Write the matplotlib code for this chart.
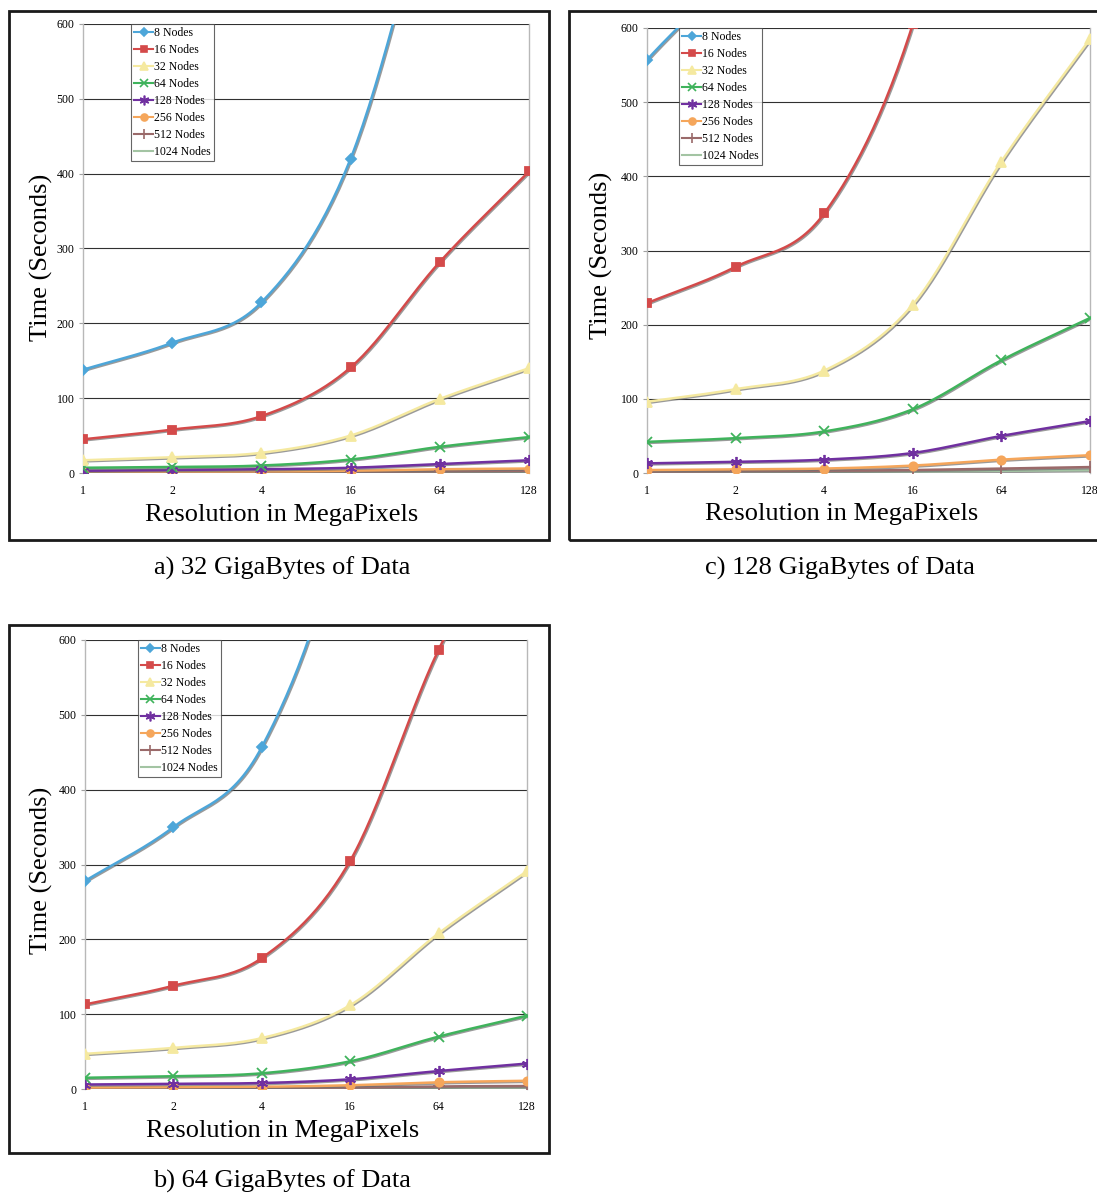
import numpy as np
import matplotlib
matplotlib.use("Agg")
import matplotlib.pyplot as plt
import matplotlib.patheffects as pe
from matplotlib.patches import Rectangle

plt.rcParams['font.family'] = ['Liberation Serif', 'DejaVu Serif']

resolutions = ['1', '2', '4', '16', '64', '128']
series_names = ['8 Nodes', '16 Nodes', '32 Nodes', '64 Nodes',
                '128 Nodes', '256 Nodes', '512 Nodes', '1024 Nodes']

# a) 32 GB
time_32gb = [
    [138, 174, 228, 420, 830, 1250],
    [45, 58, 76, 141, 282, 403],
    [17, 21, 27, 50, 99, 140],
    [7, 8, 10, 18, 35, 48],
    [3, 4, 5, 7, 12, 17],
    [1, 2, 2, 3, 5, 6],
    [0.5, 1, 1, 1.5, 2.5, 3],
    [0.3, 0.5, 0.5, 0.8, 1.2, 1.5],
]
# b) 64 GB
time_64gb = [
    [278, 350, 457, 800, 1500, 2200],
    [113, 138, 175, 305, 587, 800],
    [47, 55, 68, 112, 208, 291],
    [15, 17, 21, 37, 70, 98],
    [6, 7, 8, 13, 24, 34],
    [2, 2.5, 3, 5, 9, 11],
    [1, 1, 1.5, 2, 3.5, 4],
    [0.5, 0.5, 0.8, 1, 1.5, 2],
]
# c) 128 GB
time_128gb = [
    [557, 690, 900, 1700, 3000, 4500],
    [229, 278, 350, 605, 1100, 1600],
    [96, 113, 138, 227, 420, 585],
    [42, 47, 56, 86, 152, 209],
    [13, 15, 18, 27, 50, 70],
    [4, 5, 6, 10, 18, 24],
    [2, 2.5, 3, 4, 6, 8],
    [1, 1, 1.5, 2, 3, 4],
]

colors = ['#4da6d9', '#d44a4a', '#f5e9a0', '#3fb35c',
          '#7030a0', '#f5a65b', '#9a6a6a', '#a3c4a3']
markers = ['D', 's', '^', 'x', (6, 2, 0), 'o', '+', None]
msizes = [5, 6, 7, 7, 8, 6, 8, 0]


def smooth(xs, ys, n=30):
    # Catmull-Rom spline, like the spreadsheet "smoothed line" option
    p = np.column_stack([xs, ys]).astype(float)
    p = np.vstack([2 * p[0] - p[1], p, 2 * p[-1] - p[-2]])
    out = []
    t = np.linspace(0, 1, n)[:, None]
    for i in range(1, len(p) - 2):
        p0, p1, p2, p3 = p[i - 1], p[i], p[i + 1], p[i + 2]
        seg = 0.5 * ((2 * p1) + (-p0 + p2) * t
                     + (2 * p0 - 5 * p1 + 4 * p2 - p3) * t ** 2
                     + (-p0 + 3 * p1 - 3 * p2 + p3) * t ** 3)
        out.append(seg if i == 1 else seg[1:])
    seg = np.vstack(out)
    return seg[:, 0], seg[:, 1]


def panel(fig, rect, data, legend_anchor, xlab_pos, ylab_pos):
    ax = fig.add_axes(rect)
    x = np.arange(len(resolutions))
    shadow = [pe.SimpleLineShadow(offset=(0.8, -0.8), shadow_color='#707070', alpha=0.7),
              pe.Normal()]
    handles = []
    for k in range(len(series_names) - 1, -1, -1):
        sx, sy = smooth(x, data[k])
        ax.plot(sx, sy, color=colors[k], lw=1.8, path_effects=shadow, zorder=3 + (8 - k) * 0.01)
        if markers[k] is not None:
            ax.plot(x, data[k], ls='none', marker=markers[k], ms=msizes[k],
                    color=colors[k], mec=colors[k], mew=1.3, zorder=4)
    for k in range(len(series_names)):
        h, = ax.plot([], [], color=colors[k], lw=1.5, marker=markers[k],
                     ms=msizes[k] - 1, mew=1.2, label=series_names[k])
        handles.append(h)
    ax.set_xlim(0, 5)
    ax.set_ylim(0, 600)
    ax.set_xticks(x)
    ax.set_xticklabels(resolutions)
    ax.set_yticks(range(0, 601, 100))
    ax.tick_params(axis='x', length=0, labelsize=8.5, pad=9)
    ax.tick_params(axis='y', length=3, color='#a0a0a0', labelsize=8.5, pad=3)
    for y in range(0, 601, 100):
        ax.axhline(y, color='#303030', lw=0.8, zorder=1)
    for s in ['top', 'bottom']:
        ax.spines[s].set_visible(False)
    for s in ['left', 'right']:
        ax.spines[s].set_color('#b8b8b8')
        ax.spines[s].set_linewidth(1.0)
    ax.set_xlabel('Resolution in MegaPixels', fontsize=19)
    ax.set_ylabel('Time (Seconds)', fontsize=19)
    ax.xaxis.set_label_coords(*xlab_pos)
    ax.yaxis.set_label_coords(*ylab_pos)
    leg = ax.legend(handles=handles, loc='upper left', bbox_to_anchor=legend_anchor,
                    fontsize=8.5, frameon=True, fancybox=False, edgecolor='#404040',
                    borderpad=0.25, labelspacing=0.42, handlelength=1.6,
                    handletextpad=0.1, borderaxespad=0)
    leg.get_frame().set_linewidth(0.8)
    return ax


W, H = 1097, 1195
fig = plt.figure(figsize=(W / 100, H / 100), dpi=100)


def fx(px):
    return px / W


def fy(py):
    return 1 - py / H


panel(fig, [fx(83), fy(473), fx(529) - fx(83), fy(24) - fy(473)], time_32gb,
      (0.108, 1.0), (0.446, -0.068), (-0.067, 0.48))
panel(fig, [fx(647), fy(473), fx(1090) - fx(647), fy(28) - fy(473)], time_128gb,
      (0.073, 1.0), (0.44, -0.068), (-0.076, 0.488))
panel(fig, [fx(85), fy(1089), fx(527) - fx(85), fy(640) - fy(1089)], time_64gb,
      (0.12, 1.0), (0.446, -0.068), (-0.072, 0.488))

for (x0, y0, x1, y1) in [(9, 11, 549, 540), (569, 11, 1110, 540), (9, 625, 549, 1153)]:
    fig.patches.append(Rectangle((fx(x0), fy(y1)), fx(x1) - fx(x0), fy(y0) - fy(y1),
                                 transform=fig.transFigure, fill=False,
                                 edgecolor='#1a1a1a', lw=2.0))

fig.text(fx(282), fy(568), 'a) 32 GigaBytes of Data', ha='center', va='center', fontsize=19)
fig.text(fx(840), fy(568), 'c) 128 GigaBytes of Data', ha='center', va='center', fontsize=19)
fig.text(fx(282), fy(1181), 'b) 64 GigaBytes of Data', ha='center', va='center', fontsize=19)

fig.savefig('out.png', dpi=100)
